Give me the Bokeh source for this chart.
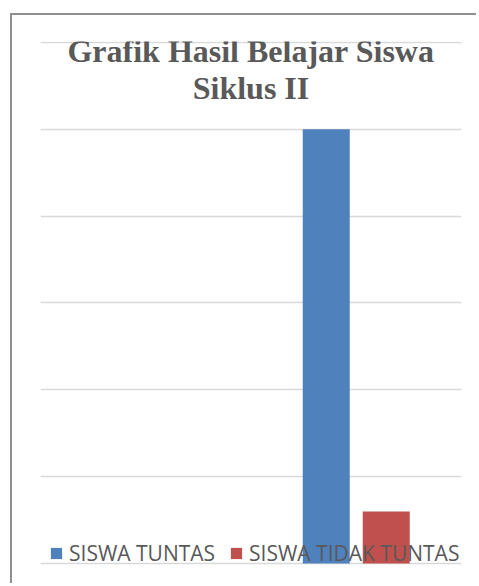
from bokeh.plotting import figure
from bokeh.models import FactorRange, Range1d, FixedTicker, Label, Legend, LegendItem, ColumnDataSource
from bokeh.transform import dodge
from bokeh.embed import file_html
from bokeh.resources import INLINE

categories = ["Siklus I", "Siklus II"]
siswa_tuntas = [0, 25]
siswa_tidak_tuntas = [0, 3]
y_ticks = [0, 5, 10, 15, 20, 25, 30]
title_lines = ["Grafik Hasil Belajar Siswa", "Siklus II"]
series_names = ["SISWA TUNTAS", "SISWA TIDAK TUNTAS"]

source = ColumnDataSource(dict(cat=categories, tuntas=siswa_tuntas, tidak=siswa_tidak_tuntas))

p = figure(width=466, height=570, x_range=FactorRange(factors=categories),
           y_range=Range1d(-0.4, 30.05), output_backend="svg", toolbar_location=None,
           min_border_left=28, min_border_right=17, min_border_top=26, min_border_bottom=15)
p.margin = (13, 0, 0, 10)
p.styles = {"border-left": "2px solid #8f8f8f", "border-top": "2px solid #8f8f8f"}
p.outline_line_color = None
p.xaxis.visible = False
p.yaxis.visible = False
p.xgrid.visible = False
p.yaxis.ticker = FixedTicker(ticks=y_ticks)
p.ygrid.ticker = FixedTicker(ticks=y_ticks)
p.ygrid.grid_line_color = "#d9d9d9"
p.ygrid.grid_line_width = 1.3

r1 = p.vbar(x=dodge("cat", -0.1425, range=p.x_range), top="tuntas", bottom=0, width=0.2233,
            source=source, fill_color="#4F81BD", line_color=None)
r2 = p.vbar(x=dodge("cat", 0.1425, range=p.x_range), top="tidak", bottom=0, width=0.2233,
            source=source, fill_color="#C0504D", line_color=None)

legend = Legend(items=[LegendItem(label=series_names[0], renderers=[r1]),
                       LegendItem(label=series_names[1], renderers=[r2])],
                orientation="horizontal", location=(9, 3), padding=0, margin=0,
                spacing=14, glyph_width=14, glyph_height=14, label_standoff=6,
                label_text_font="Open Sans", label_text_font_size="21px",
                label_text_color="#595959", border_line_color=None,
                background_fill_alpha=0)
p.add_layout(legend, "center")

for txt, yy in zip(title_lines, [520, 483]):
    p.add_layout(Label(x=210.5, y=yy, x_units="screen", y_units="screen", text=txt,
                       text_align="center", text_baseline="alphabetic",
                       text_font="Liberation Serif", text_font_style="bold",
                       text_font_size="32px", text_color="#595959"))

open("out.html", "w").write(file_html(p, INLINE))
